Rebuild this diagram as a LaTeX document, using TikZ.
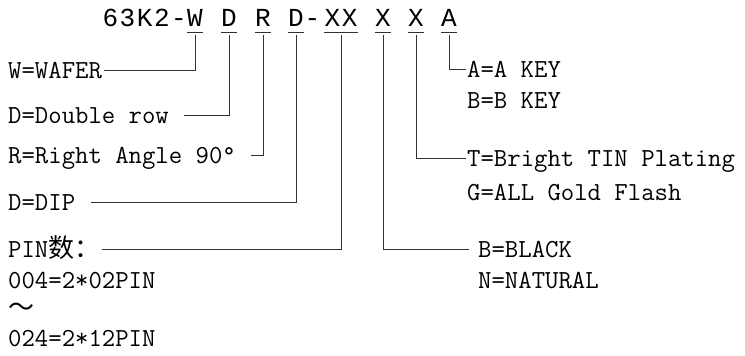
\documentclass[tikz,border=0pt]{standalone}
\usepackage{fontspec}
\newfontfamily\codefont[LetterSpace=6]{Liberation Mono}
\newfontfamily\cjkfont{Noto Sans CJK SC}
\usetikzlibrary{positioning}

\tikzset{
	code/.style={font=\codefont\fontsize{26}{30}\selectfont, inner sep=0pt, text depth=5pt, anchor=base},
	label/.style={font=\ttfamily\fontsize{26}{30}\selectfont, inner xsep=1.5pt, inner ysep=0pt, text height=16pt, text depth=0pt, anchor=west},
	lead/.style={draw=black!80, line width=1pt},
}
\newcommand{\gapsp}{\hspace*{0.525em}}

\begin{document}
\begin{tikzpicture}[x=1pt,y=-1pt]
	\useasboundingbox (0,0) rectangle (745,356);
	% part number
	\node[code, anchor=base east] (pre) at (187,27) {63K2-};
	\node[code] (w) at (195,27) {W};
	\node[code] (dr) at (229,27) {D};
	\node[code] (ra) at (263,27) {R};
	\node[code] (dip) at (296,27) {D};
	\node[code] (dash) at (312.5,27) {-};
	\node[code] (pin) at (341,27) {XX};
	\node[code] (col) at (383,27) {X};
	\node[code] (plt) at (416,27) {X};
	\node[code] (key) at (449,27) {A};
	\foreach \n in {w,dr,ra,dip,pin,col,plt,key} {
		\draw[lead] (\n.south west) -- (\n.south east);
	}
	% left side
	\node[label] (wafer) at (6.5,70) {W=WAFER};
	\node[label] (double) at (6.5,115) {D=Double row\gapsp};
	\node[label] (angle) at (6.5,155) {R=Right Angle 90°\gapsp};
	\node[label] (ddip) at (6.5,202) {D=DIP\gapsp};
	\node[label] (pins) at (6.5,249) {PIN{\cjkfont 数：}};
	\node[label] (pmin) at ([yshift=-31pt]pins.west) {004=2*02PIN};
	\node[label] (tilde) at ([yshift=-28pt]pmin.west) {{\cjkfont ～}};
	\node[label] (pmax) at ([yshift=-30pt]tilde.west) {024=2*12PIN};
	% right side
	\node[label] (akey) at (465.5,69) {A=A KEY};
	\node[label] (bkey) at ([yshift=-31pt]akey.west) {B=B KEY};
	\node[label] (tin) at (465.5,158) {T=Bright TIN Plating};
	\node[label] (gold) at ([yshift=-34pt]tin.west) {G=ALL Gold Flash};
	\node[label] (black) at (476.5,249) {B=BLACK};
	\node[label] (natural) at ([yshift=-31pt]black.west) {N=NATURAL};
	% leaders
	\draw[lead] ([yshift=-3pt]w.south) |- (wafer.east);
	\draw[lead] ([yshift=-3pt]dr.south) |- (double.east);
	\draw[lead] ([yshift=-3pt]ra.south) |- (angle.east);
	\draw[lead] ([yshift=-3pt]dip.south) |- (ddip.east);
	\draw[lead] ([yshift=-3pt]pin.south) |- (pins.east);
	\draw[lead] ([yshift=-3pt]col.south) |- ([xshift=-8pt]black.west);
	\draw[lead] ([yshift=-3pt]plt.south) |- (tin.west);
	\draw[lead] ([yshift=-3pt]key.south) |- (akey.west);
\end{tikzpicture}
\end{document}
